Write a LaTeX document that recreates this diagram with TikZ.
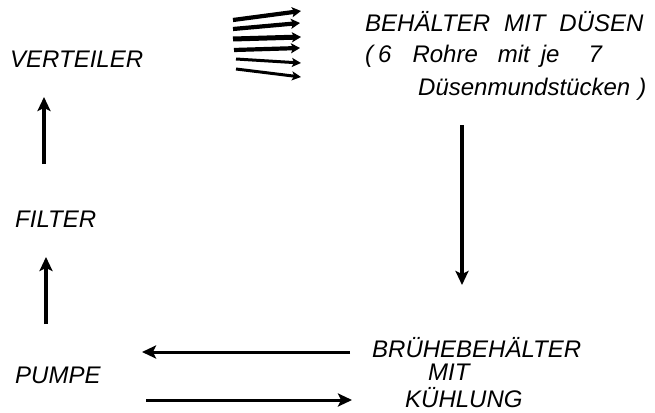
\documentclass[tikz,border=0pt]{standalone}
\usepackage{fontspec}
\setmainfont{Liberation Sans}
\usetikzlibrary{arrows.meta}
\begin{document}
\begin{tikzpicture}[x=1pt,y=-1pt,
  lbl/.style={font=\itshape\fontsize{24}{28}\selectfont, inner sep=0pt, anchor=base west},
  flow/.style={line width=3.4pt, -{Stealth[length=14pt,width=13pt,inset=3pt]}},
  jet/.style={line width=4.2pt, -{Stealth[length=9pt,width=10pt,inset=2pt]}},
  thinjet/.style={line width=3pt, -{Stealth[length=9pt,width=9pt,inset=2pt]}}]
\useasboundingbox (0,0) rectangle (655,412);
% left column
\node[lbl] (verteiler) at (10,67) {VERTEILER};
\node[lbl] (filter) at (15,227) {FILTER};
\node[lbl] (pumpe) at (15,383) {PUMPE};
% right texts
\node[lbl] (beh1) at (365,32) {BEHÄLTER\hspace{14pt}MIT\hspace{14pt}DÜSEN};
\node[lbl] (beh2) at (365,63) {(\hspace{5pt}6\hspace{21pt}Rohre\hspace{20pt}mit\hspace{11pt}je\hspace{29pt}7};
\node[lbl] (beh3) at (418,95) {Düsenmundstücken\hspace{8pt})};
\node[lbl] (bru) at (372,357) {BRÜHEBEHÄLTER};
\node[lbl] (mit) at (428,380) {MIT};
\node[lbl, text depth=0pt] (kuehl) at (405,407) {KÜHLUNG};
% coordinates
\coordinate (v1) at (44,164); \coordinate (v2) at (44,97);
\coordinate (f1) at (46,324); \coordinate (f2) at (46,257);
\coordinate (d1) at (462,125); \coordinate (d2) at (462,285);
\coordinate (l1) at (350,352); \coordinate (l2) at (142,352);
\coordinate (r1) at (146,400); \coordinate (r2) at (352,400);
% flow arrows
\draw[flow] (v1) -- (v2);
\draw[flow] (f1) -- (f2);
\draw[flow] (d1) -- (d2);
\draw[flow, line width=3pt] (l1) -- (l2);
\draw[flow, line width=3pt] (r1) -- (r2);
% nozzle jets
\coordinate (j1a) at (233,20); \coordinate (j1b) at (301,11);
\coordinate (j2a) at (233,29); \coordinate (j2b) at (300,23);
\coordinate (j3a) at (233,39); \coordinate (j3b) at (301,37);
\coordinate (j4a) at (234,50); \coordinate (j4b) at (300,48);
\coordinate (j5a) at (236,59); \coordinate (j5b) at (301,63);
\coordinate (j6a) at (236,69); \coordinate (j6b) at (301,77);
\draw[jet] (j1a) -- (j1b);
\draw[jet] (j2a) -- (j2b);
\draw[jet, line width=5pt] (j3a) -- (j3b);
\draw[jet] (j4a) -- (j4b);
\draw[thinjet] (j5a) -- (j5b);
\draw[thinjet] (j6a) -- (j6b);
\end{tikzpicture}
\end{document}
